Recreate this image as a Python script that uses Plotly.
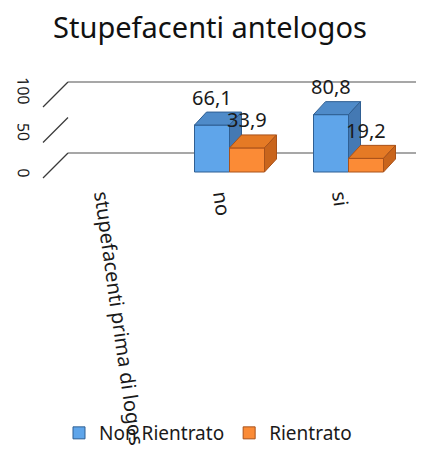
import plotly.graph_objects as go

# ---- data ----
categories = ["stupefacenti prima di logos", "no", "si"]
non_rientrato = [None, 66.1, 80.8]
rientrato = [None, 33.9, 19.2]
y_ticks = [0, 50, 100]
title_text = "Stupefacenti antelogos"
series_names = ["Non Rientrato", "Rientrato"]

# ---- projection / layout constants (pixels of the 424x450 canvas) ----
OFF = 8                    # page body margin in the browser
CW, CH = 424, 450          # canvas size
W, H = CW - OFF, CH - OFF  # figure size
X0, XS = 104.0, 119.0      # px of category 0, px per category
Y0, YS = 172.0, 0.71       # px of value 0 (bar front plane), px per unit
L0, LS = 169.0, 0.73       # tick-label plane: px of 0, px per unit
PL, PR, PT, PB = 32, 424, 60, 180   # plot area edges in canvas px

def ux(px):
    return (px - X0) / XS

def uy(py):
    return (Y0 - py) / YS

def ul(py):
    return (L0 - py) / LS

bar_w = 35.0 / XS
grp_off = 6.5 / XS
dX, dY = 12.0 / XS, 13.0 / YS

blue = dict(front="#5fa5ea", top="#4f8bc9", side="#4479b3", edge="#2f5f93")
orange = dict(front="#fb8b36", top="#e57a25", side="#c9651c", edge="#a9521a")

fig = go.Figure()

def add_series(vals, name, col, side, xa, ya):
    xs, ys = [], []
    for i, v in enumerate(vals):
        if v is None:
            continue
        xs.append(i + grp_off + side * bar_w / 2)
        ys.append(v)
    fig.add_trace(go.Bar(x=xs, y=ys, width=bar_w, name=name,
                         marker=dict(color=col["front"], line=dict(color=col["edge"], width=1)),
                         xaxis=xa, yaxis=ya, showlegend=True, hoverinfo="skip"))
    for xc, v in zip(xs, ys):
        xl, xr = xc - bar_w / 2, xc + bar_w / 2
        fig.add_trace(go.Scatter(
            x=[xl, xr, xr + dX, xl + dX, xl], y=[v, v, v + dY, v + dY, v],
            fill="toself", fillcolor=col["top"], mode="lines",
            line=dict(color=col["edge"], width=1), showlegend=False,
            xaxis=xa, yaxis=ya, hoverinfo="skip"))
        fig.add_trace(go.Scatter(
            x=[xr, xr + dX, xr + dX, xr, xr], y=[0, dY, v + dY, v, 0],
            fill="toself", fillcolor=col["side"], mode="lines",
            line=dict(color=col["edge"], width=1), showlegend=False,
            xaxis=xa, yaxis=ya, hoverinfo="skip"))
    return xs, ys

bx, by = add_series(non_rientrato, series_names[0], blue, -1, "x", "y")
ox, oy = add_series(rientrato, series_names[1], orange, +1, "x2", "y2")

# data labels
annotations = []
for xs, ys in ((bx, by), (ox, oy)):
    for xc, v in zip(xs, ys):
        annotations.append(dict(x=xc, y=v, xref="x", yref="y", text=f"{v:.1f}".replace(".", ","),
                                showarrow=False, yshift=28, font=dict(size=20, color="#1a1a1a")))

# back wall gridlines (below the bars)
shapes = []
back_left = ux(68)
front_left = ux(43)
back_py = lambda v: 153 - YS * v
front_py = lambda v: 178 - YS * v
for v in (0, 100):
    shapes.append(dict(type="line", xref="x", yref="y", x0=back_left, x1=ux(CW),
                       y0=uy(back_py(v)), y1=uy(back_py(v)), layer="below",
                       line=dict(color="#8a8a8a", width=1.3)))

# left wall slanted ticks, drawn on the tick-label axis
sx, sy = [], []
for v in y_ticks:
    sx += [front_left, back_left, None]
    sy += [ul(front_py(v)), ul(back_py(v)), None]
fig.add_trace(go.Scatter(x=sx, y=sy, mode="lines", xaxis="x", yaxis="y3",
                         line=dict(color="#3a3a3a", width=1.3), showlegend=False,
                         hoverinfo="skip"))

xr_ = [ux(PL), ux(PR)]
yr_ = [uy(PB), uy(PT)]
lr_ = [ul(PB), ul(PT)]

fig.update_layout(
    template="none",
    width=W, height=H,
    margin=dict(l=PL - OFF, r=CW - PR, t=PT - OFF, b=CH - PB),
    paper_bgcolor="white", plot_bgcolor="rgba(0,0,0,0)",
    font=dict(family="Noto Sans, DejaVu Sans, sans-serif", color="#1a1a1a"),
    title=dict(text=title_text, x=(210 - OFF) / W, xanchor="center", xref="container",
               y=1 - (28 - OFF) / H, yanchor="middle", yref="container",
               font=dict(size=29, color="#111111")),
    barmode="overlay",
    showlegend=True,
    legend=dict(orientation="h", x=(208 - OFF) / W, xanchor="center", xref="container",
                y=1 - (433 - OFF) / H, yanchor="middle", yref="container",
                font=dict(size=19, color="#1a1a1a"), bgcolor="rgba(0,0,0,0)",
                traceorder="normal"),
    xaxis=dict(range=xr_, tickvals=list(range(len(categories))), ticktext=categories,
               tickangle=82, showgrid=False, zeroline=False, showline=False,
               ticks="", tickfont=dict(size=20, color="#1a1a1a"),
               automargin=False, fixedrange=True),
    xaxis2=dict(range=xr_, overlaying="x", visible=False, fixedrange=True),
    yaxis=dict(range=yr_, visible=False, fixedrange=True),
    yaxis2=dict(range=yr_, overlaying="y", visible=False, fixedrange=True),
    yaxis3=dict(range=lr_, overlaying="y", anchor="x", side="left", tickvals=y_ticks,
                tickangle=89, showgrid=False, zeroline=False, showline=False,
                ticks="outside", ticklen=2, tickcolor="rgba(0,0,0,0)",
                ticklabelshift=11,
                tickfont=dict(size=16, color="#1a1a1a"), automargin=False, fixedrange=True),
    annotations=annotations,
    shapes=shapes,
)

fig.write_html("out.html")
